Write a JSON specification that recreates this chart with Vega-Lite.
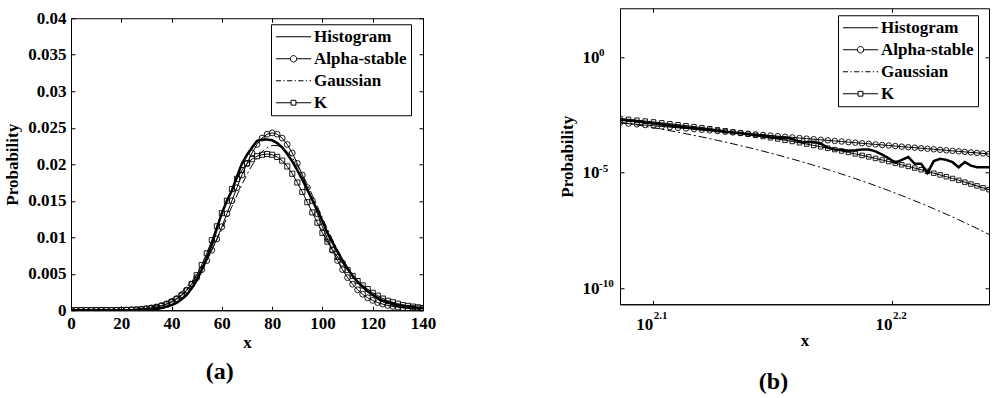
{
"$schema": "https://vega.github.io/schema/vega-lite/v6.json",
"background": "white",
"padding": {"left": 3, "top": 7, "right": 5, "bottom": 5},
"datasets": {
"leg": [{"series":"Histogram"},{"series":"Alpha-stable"},{"series":"Gaussian"},{"series":"K"}],
"bx": [{"v":125.8925,"e":"2.1"},{"v":158.4893,"e":"2.2"}],
"by": [{"v":1,"e":"0"},{"v":1e-5,"e":"-5"},{"v":1e-10,"e":"-10"}],
"a": [
{"x":0,"hist":0,"alpha":0,"gauss":0,"k":0},
{"x":2,"hist":0,"alpha":0,"gauss":0,"k":0},
{"x":4,"hist":0,"alpha":0,"gauss":0,"k":0},
{"x":6,"hist":0,"alpha":0,"gauss":0,"k":0},
{"x":8,"hist":0,"alpha":0,"gauss":0,"k":0},
{"x":10,"hist":0,"alpha":0,"gauss":0,"k":0},
{"x":12,"hist":0,"alpha":0,"gauss":0.00001,"k":0},
{"x":14,"hist":0,"alpha":0,"gauss":0.00002,"k":0},
{"x":16,"hist":0,"alpha":0,"gauss":0.00003,"k":0.00001},
{"x":18,"hist":0,"alpha":0,"gauss":0.00004,"k":0.00001},
{"x":20,"hist":0,"alpha":0.00003,"gauss":0.00006,"k":0.00002},
{"x":22,"hist":0,"alpha":0.00004,"gauss":0.00008,"k":0.00003},
{"x":24,"hist":0,"alpha":0.00007,"gauss":0.00012,"k":0.00005},
{"x":26,"hist":0.00001,"alpha":0.0001,"gauss":0.00018,"k":0.00007},
{"x":28,"hist":0.00002,"alpha":0.00015,"gauss":0.00025,"k":0.0001},
{"x":30,"hist":0.00004,"alpha":0.00022,"gauss":0.00035,"k":0.0002},
{"x":32,"hist":0.0001,"alpha":0.00032,"gauss":0.00048,"k":0.0003},
{"x":34,"hist":0.0002,"alpha":0.00045,"gauss":0.00065,"k":0.0004},
{"x":36,"hist":0.0003,"alpha":0.00064,"gauss":0.00088,"k":0.0006},
{"x":38,"hist":0.0005,"alpha":0.00088,"gauss":0.00116,"k":0.0008},
{"x":40,"hist":0.0007,"alpha":0.0012,"gauss":0.00152,"k":0.0011},
{"x":42,"hist":0.001,"alpha":0.0016,"gauss":0.00197,"k":0.0015},
{"x":44,"hist":0.0015,"alpha":0.00212,"gauss":0.00251,"k":0.002},
{"x":46,"hist":0.0021,"alpha":0.00276,"gauss":0.00316,"k":0.0027},
{"x":48,"hist":0.003,"alpha":0.00354,"gauss":0.00394,"k":0.0036},
{"x":50,"hist":0.0041,"alpha":0.00447,"gauss":0.00483,"k":0.0048},
{"x":52,"hist":0.0055,"alpha":0.00556,"gauss":0.00586,"k":0.0062},
{"x":54,"hist":0.0071,"alpha":0.00681,"gauss":0.00701,"k":0.0078},
{"x":56,"hist":0.009,"alpha":0.00822,"gauss":0.00829,"k":0.0096},
{"x":58,"hist":0.0112,"alpha":0.00977,"gauss":0.00967,"k":0.0115},
{"x":60,"hist":0.0133,"alpha":0.01145,"gauss":0.01113,"k":0.0133},
{"x":62,"hist":0.015,"alpha":0.01321,"gauss":0.01266,"k":0.015},
{"x":64,"hist":0.0164,"alpha":0.01501,"gauss":0.01421,"k":0.0166},
{"x":66,"hist":0.0183,"alpha":0.0168,"gauss":0.01575,"k":0.018},
{"x":68,"hist":0.0201,"alpha":0.01853,"gauss":0.01723,"k":0.0192},
{"x":70,"hist":0.0213,"alpha":0.02013,"gauss":0.01861,"k":0.0201},
{"x":72,"hist":0.0223,"alpha":0.02154,"gauss":0.01985,"k":0.0207},
{"x":74,"hist":0.0232,"alpha":0.02271,"gauss":0.02089,"k":0.0211},
{"x":76,"hist":0.0234,"alpha":0.02358,"gauss":0.02171,"k":0.0213},
{"x":78,"hist":0.0234,"alpha":0.02412,"gauss":0.02228,"k":0.0214},
{"x":80,"hist":0.0233,"alpha":0.0243,"gauss":0.02256,"k":0.0213},
{"x":82,"hist":0.0229,"alpha":0.02412,"gauss":0.02256,"k":0.021},
{"x":84,"hist":0.0223,"alpha":0.02358,"gauss":0.02228,"k":0.0205},
{"x":86,"hist":0.0214,"alpha":0.02271,"gauss":0.02171,"k":0.0197},
{"x":88,"hist":0.0204,"alpha":0.02154,"gauss":0.02089,"k":0.0187},
{"x":90,"hist":0.0192,"alpha":0.02013,"gauss":0.01985,"k":0.0175},
{"x":92,"hist":0.0179,"alpha":0.01853,"gauss":0.01861,"k":0.0162},
{"x":94,"hist":0.0165,"alpha":0.0168,"gauss":0.01723,"k":0.0148},
{"x":96,"hist":0.0151,"alpha":0.01501,"gauss":0.01575,"k":0.0134},
{"x":98,"hist":0.0137,"alpha":0.01321,"gauss":0.01421,"k":0.012},
{"x":100,"hist":0.0122,"alpha":0.01145,"gauss":0.01266,"k":0.0106},
{"x":102,"hist":0.0106,"alpha":0.00977,"gauss":0.01113,"k":0.0094},
{"x":104,"hist":0.0093,"alpha":0.00822,"gauss":0.00967,"k":0.0083},
{"x":106,"hist":0.008,"alpha":0.00681,"gauss":0.00829,"k":0.0073},
{"x":108,"hist":0.0068,"alpha":0.00556,"gauss":0.00701,"k":0.0064},
{"x":110,"hist":0.0057,"alpha":0.00447,"gauss":0.00586,"k":0.0055},
{"x":112,"hist":0.0047,"alpha":0.00357,"gauss":0.00483,"k":0.0047},
{"x":114,"hist":0.0039,"alpha":0.0028,"gauss":0.00394,"k":0.004},
{"x":116,"hist":0.0032,"alpha":0.0022,"gauss":0.00316,"k":0.0034},
{"x":118,"hist":0.0026,"alpha":0.0017,"gauss":0.00251,"k":0.0029},
{"x":120,"hist":0.0021,"alpha":0.00135,"gauss":0.00197,"k":0.0024},
{"x":122,"hist":0.0017,"alpha":0.00105,"gauss":0.00152,"k":0.002},
{"x":124,"hist":0.0013,"alpha":0.00084,"gauss":0.00116,"k":0.0016},
{"x":126,"hist":0.0011,"alpha":0.00065,"gauss":0.00088,"k":0.0013},
{"x":128,"hist":0.0009,"alpha":0.00052,"gauss":0.00065,"k":0.0011},
{"x":130,"hist":0.0007,"alpha":0.00042,"gauss":0.00048,"k":0.0009},
{"x":132,"hist":0.0006,"alpha":0.00035,"gauss":0.00035,"k":0.0007},
{"x":134,"hist":0.0005,"alpha":0.0003,"gauss":0.00025,"k":0.0006},
{"x":136,"hist":0.0004,"alpha":0.00027,"gauss":0.00018,"k":0.0005},
{"x":138,"hist":0.0003,"alpha":0.00024,"gauss":0.00012,"k":0.0004},
{"x":140,"hist":0.0003,"alpha":0.00023,"gauss":0.00008,"k":0.0003}
],
"b": [
{"x":122,"hist":2.00e-3,"alpha":1.413e-3,"gauss":1.52e-3,"k":2.19e-3},
{"x":123,"hist":1.82e-3,"alpha":1.315e-3,"gauss":1.33e-3,"k":2.02e-3},
{"x":124,"hist":1.66e-3,"alpha":1.227e-3,"gauss":1.16e-3,"k":1.85e-3},
{"x":125,"hist":1.48e-3,"alpha":1.143e-3,"gauss":1.01e-3,"k":1.70e-3},
{"x":126,"hist":1.35e-3,"alpha":1.067e-3,"gauss":8.75e-4,"k":1.56e-3},
{"x":127,"hist":1.20e-3,"alpha":9.95e-4,"gauss":7.57e-4,"k":1.43e-3},
{"x":128,"hist":1.10e-3,"alpha":9.31e-4,"gauss":6.52e-4,"k":1.30e-3},
{"x":129,"hist":1.00e-3,"alpha":8.69e-4,"gauss":5.60e-4,"k":1.18e-3},
{"x":130,"hist":8.91e-4,"alpha":8.13e-4,"gauss":4.79e-4,"k":1.07e-3},
{"x":131,"hist":8.32e-4,"alpha":7.60e-4,"gauss":4.08e-4,"k":9.73e-4},
{"x":132,"hist":7.59e-4,"alpha":7.11e-4,"gauss":3.48e-4,"k":8.79e-4},
{"x":133,"hist":6.92e-4,"alpha":6.67e-4,"gauss":2.94e-4,"k":7.94e-4},
{"x":134,"hist":6.46e-4,"alpha":6.25e-4,"gauss":2.49e-4,"k":7.14e-4},
{"x":135,"hist":5.89e-4,"alpha":5.85e-4,"gauss":2.09e-4,"k":6.41e-4},
{"x":136,"hist":5.50e-4,"alpha":5.50e-4,"gauss":1.76e-4,"k":5.75e-4},
{"x":137,"hist":5.01e-4,"alpha":5.15e-4,"gauss":1.47e-4,"k":5.14e-4},
{"x":138,"hist":4.57e-4,"alpha":4.83e-4,"gauss":1.23e-4,"k":4.59e-4},
{"x":139,"hist":4.17e-4,"alpha":4.54e-4,"gauss":1.02e-4,"k":4.09e-4},
{"x":140,"hist":3.80e-4,"alpha":4.27e-4,"gauss":8.45e-5,"k":3.63e-4},
{"x":141,"hist":3.39e-4,"alpha":4.01e-4,"gauss":6.98e-5,"k":3.22e-4},
{"x":142,"hist":3.16e-4,"alpha":3.77e-4,"gauss":5.75e-5,"k":2.85e-4},
{"x":143,"hist":3.31e-4,"alpha":3.55e-4,"gauss":4.72e-5,"k":2.52e-4},
{"x":144,"hist":2.82e-4,"alpha":3.34e-4,"gauss":3.86e-5,"k":2.22e-4},
{"x":145,"hist":2.19e-4,"alpha":3.14e-4,"gauss":3.16e-5,"k":1.95e-4},
{"x":146,"hist":2.04e-4,"alpha":2.96e-4,"gauss":2.56e-5,"k":1.71e-4},
{"x":147,"hist":2.14e-4,"alpha":2.79e-4,"gauss":2.07e-5,"k":1.50e-4},
{"x":148,"hist":1.78e-4,"alpha":2.63e-4,"gauss":1.68e-5,"k":1.31e-4},
{"x":149,"hist":1.20e-4,"alpha":2.48e-4,"gauss":1.35e-5,"k":1.14e-4},
{"x":150,"hist":1.00e-4,"alpha":2.34e-4,"gauss":1.08e-5,"k":9.91e-5},
{"x":151,"hist":9.55e-5,"alpha":2.21e-4,"gauss":8.67e-6,"k":8.61e-5},
{"x":152,"hist":8.91e-5,"alpha":2.08e-4,"gauss":6.92e-6,"k":7.45e-5},
{"x":153,"hist":9.33e-5,"alpha":1.97e-4,"gauss":5.50e-6,"k":6.44e-5},
{"x":154,"hist":1.00e-4,"alpha":1.86e-4,"gauss":4.36e-6,"k":5.55e-5},
{"x":155,"hist":1.00e-4,"alpha":1.76e-4,"gauss":3.44e-6,"k":4.78e-5},
{"x":156,"hist":8.32e-5,"alpha":1.66e-4,"gauss":2.71e-6,"k":4.10e-5},
{"x":157,"hist":6.03e-5,"alpha":1.57e-4,"gauss":2.13e-6,"k":3.52e-5},
{"x":158,"hist":4.17e-5,"alpha":1.49e-4,"gauss":1.66e-6,"k":3.00e-5},
{"x":159,"hist":2.63e-5,"alpha":1.41e-4,"gauss":1.30e-6,"k":2.56e-5},
{"x":160,"hist":3.55e-5,"alpha":1.33e-4,"gauss":1.01e-6,"k":2.18e-5},
{"x":161,"hist":4.68e-5,"alpha":1.26e-4,"gauss":7.82e-7,"k":1.85e-5},
{"x":162,"hist":2.40e-5,"alpha":1.20e-4,"gauss":6.03e-7,"k":1.57e-5},
{"x":163,"hist":2.40e-5,"alpha":1.135e-4,"gauss":4.65e-7,"k":1.33e-5},
{"x":164,"hist":9.77e-6,"alpha":1.076e-4,"gauss":3.56e-7,"k":1.12e-5},
{"x":165,"hist":3.16e-5,"alpha":1.021e-4,"gauss":2.72e-7,"k":9.42e-6},
{"x":166,"hist":3.98e-5,"alpha":9.68e-5,"gauss":2.07e-7,"k":7.93e-6},
{"x":167,"hist":3.55e-5,"alpha":9.20e-5,"gauss":1.58e-7,"k":6.64e-6},
{"x":168,"hist":2.82e-5,"alpha":8.73e-5,"gauss":1.20e-7,"k":5.56e-6},
{"x":169,"hist":1.70e-5,"alpha":8.30e-5,"gauss":9.04e-8,"k":4.63e-6},
{"x":170,"hist":2.88e-5,"alpha":7.87e-5,"gauss":6.79e-8,"k":3.86e-6},
{"x":171,"hist":2.00e-5,"alpha":7.48e-5,"gauss":5.11e-8,"k":3.21e-6},
{"x":172,"hist":1.70e-5,"alpha":7.11e-5,"gauss":3.81e-8,"k":2.66e-6},
{"x":173,"hist":1.70e-5,"alpha":6.76e-5,"gauss":2.84e-8,"k":2.20e-6},
{"x":174,"hist":1.70e-5,"alpha":6.43e-5,"gauss":2.11e-8,"k":1.82e-6}
]
},
"spacing": 120,
"center": true,
"resolve": {"scale": {"shape": "independent"}, "legend": {"shape": "independent"}},
"hconcat": [
{
"width": 352, "height": 292,
"title": {"text": "(a)", "orient": "bottom", "anchor": "middle", "frame": "bounds", "font": "Liberation Serif", "fontSize": 24, "fontWeight": "bold", "color": "black", "offset": 10},
"layer": [
{"data": {"name": "a"}, "mark": {"type": "line", "color": "black", "strokeWidth": 1, "strokeDash": [8,3,2,3], "clip": true},
 "encoding": {
  "x": {"field": "x", "type": "quantitative", "title": "x", "scale": {"domain": [0,140], "nice": false},
        "axis": {"values": [0,20,40,60,80,100,120,140], "format": "d", "ticks": false, "grid": true, "gridDash": [4,284,4,20], "gridColor": "black", "gridOpacity": 1, "labelPadding": 5, "titlePadding": 3, "labelOverlap": false}},
  "y": {"field": "gauss", "type": "quantitative", "title": "Probability", "scale": {"domain": [0,0.04], "nice": false},
        "axis": {"values": [0,0.005,0.01,0.015,0.02,0.025,0.03,0.035,0.04], "tickCount": 9, "labelExpr": "format(datum.value, '~g')", "ticks": false, "grid": true, "gridDash": [4,344,4,20], "gridColor": "black", "gridOpacity": 1, "labelPadding": 5, "titlePadding": 6, "labelOverlap": false}}
 }},
{"data": {"name": "a"}, "mark": {"type": "line", "color": "black", "strokeWidth": 1, "clip": true},
 "encoding": {"x": {"field": "x", "type": "quantitative", "title": "x"}, "y": {"field": "k", "type": "quantitative", "title": "Probability"}}},
{"data": {"name": "a"}, "mark": {"type": "point", "shape": "square", "filled": false, "color": "black", "size": 26, "strokeWidth": 0.9, "opacity": 1, "clip": true},
 "encoding": {"x": {"field": "x", "type": "quantitative", "title": "x"}, "y": {"field": "k", "type": "quantitative", "title": "Probability"}}},
{"data": {"name": "a"}, "mark": {"type": "line", "color": "black", "strokeWidth": 1, "clip": true},
 "encoding": {"x": {"field": "x", "type": "quantitative", "title": "x"}, "y": {"field": "alpha", "type": "quantitative", "title": "Probability"}}},
{"data": {"name": "a"}, "mark": {"type": "point", "shape": "circle", "filled": false, "color": "black", "size": 34, "strokeWidth": 0.9, "opacity": 1, "clip": true},
 "encoding": {"x": {"field": "x", "type": "quantitative", "title": "x"}, "y": {"field": "alpha", "type": "quantitative", "title": "Probability"}}},
{"data": {"name": "a"}, "mark": {"type": "line", "color": "black", "strokeWidth": 2.5, "clip": true},
 "encoding": {"x": {"field": "x", "type": "quantitative", "title": "x"}, "y": {"field": "hist", "type": "quantitative", "title": "Probability"}}},
{"data": {"name": "leg"}, "mark": {"type": "point", "filled": false, "color": "black", "opacity": 0},
 "encoding": {"shape": {"field": "series", "type": "nominal",
   "scale": {"domain": ["Histogram","Alpha-stable","Gaussian","K"],
     "range": ["M-4.4,0H4.4",
               "M-4.4,0H-0.8M0.8,0H4.4M0.8,0A0.8,0.8,0,1,1,-0.8,0A0.8,0.8,0,1,1,0.8,0",
               "M-4.4,0H-3.1M-2.5,0H-2.2M-1.6,0H-0.3M0.3,0H0.6M1.2,0H2.5M3.1,0H3.4M4,0H4.4",
               "M-4.4,0H-0.6M0.6,0H4.4M-0.6,-0.6H0.6V0.6H-0.6Z"]},
   "legend": {"title": null, "orient": "none", "legendX": 200, "legendY": 6, "strokeColor": "black", "fillColor": "white", "padding": 4, "rowPadding": 4, "labelFont": "Liberation Serif", "labelFontSize": 17, "labelFontWeight": "bold", "labelColor": "black", "labelLimit": 300, "symbolSize": 64, "symbolStrokeWidth": 1, "symbolStrokeColor": "black", "symbolFillColor": "transparent", "symbolOffset": 10, "labelOffset": 12, "symbolOpacity": 1, "cornerRadius": 0,
     "encode": {"symbols": {"update": {"strokeWidth": {"signal": "datum.value === 'Histogram' ? 2.5 : 1"}}}}}}}}
]
},
{
"width": 369, "height": 296,
"title": {"text": "(b)", "orient": "bottom", "anchor": "middle", "frame": "bounds", "font": "Liberation Serif", "fontSize": 24, "fontWeight": "bold", "color": "black", "offset": 22},
"layer": [
{"data": {"name": "b"}, "mark": {"type": "line", "color": "black", "strokeWidth": 1, "strokeDash": [8,3,2,3], "clip": true},
 "encoding": {
  "x": {"field": "x", "type": "quantitative", "title": "x", "scale": {"type": "log", "domain": [122,174], "nice": false},
        "axis": {"values": [125.8925,158.4893], "labelExpr": "'10'", "labelAlign": "right", "ticks": false, "grid": true, "gridDash": [4,288,4,20], "gridColor": "black", "gridOpacity": 1, "labelPadding": 12, "titlePadding": 0, "labelOverlap": false}},
  "y": {"field": "gauss", "type": "quantitative", "title": "Probability", "scale": {"type": "log", "domain": [2e-11,130], "nice": false},
        "axis": {"values": [1e-10,1e-5,1], "labelExpr": "'10'", "ticks": false, "grid": true, "gridDash": [4,361,4,20], "gridColor": "black", "gridOpacity": 1, "labelPadding": 21, "titlePadding": 6, "labelOverlap": false}}
 }},
{"data": {"name": "b"}, "mark": {"type": "line", "color": "black", "strokeWidth": 1, "clip": true},
 "encoding": {"x": {"field": "x", "type": "quantitative", "title": "x"}, "y": {"field": "k", "type": "quantitative", "title": "Probability"}}},
{"data": {"name": "b"}, "mark": {"type": "point", "shape": "square", "filled": false, "color": "black", "size": 20, "strokeWidth": 0.9, "opacity": 1, "clip": true},
 "encoding": {"x": {"field": "x", "type": "quantitative", "title": "x"}, "y": {"field": "k", "type": "quantitative", "title": "Probability"}}},
{"data": {"name": "b"}, "mark": {"type": "line", "color": "black", "strokeWidth": 1, "clip": true},
 "encoding": {"x": {"field": "x", "type": "quantitative", "title": "x"}, "y": {"field": "alpha", "type": "quantitative", "title": "Probability"}}},
{"data": {"name": "b"}, "mark": {"type": "point", "shape": "circle", "filled": false, "color": "black", "size": 30, "strokeWidth": 0.9, "opacity": 1, "clip": true},
 "encoding": {"x": {"field": "x", "type": "quantitative", "title": "x"}, "y": {"field": "alpha", "type": "quantitative", "title": "Probability"}}},
{"data": {"name": "b"}, "mark": {"type": "line", "color": "black", "strokeWidth": 2.5, "clip": true},
 "encoding": {"x": {"field": "x", "type": "quantitative", "title": "x"}, "y": {"field": "hist", "type": "quantitative", "title": "Probability"}}},
{"data": {"name": "bx"}, "mark": {"type": "text", "align": "left", "baseline": "alphabetic", "dx": 1, "dy": 15, "font": "Liberation Serif", "fontSize": 11, "fontWeight": "bold", "color": "black", "clip": false},
 "encoding": {"x": {"field": "v", "type": "quantitative", "title": "x"}, "y": {"datum": 2e-11, "type": "quantitative"}, "text": {"field": "e"}}},
{"data": {"name": "by"}, "mark": {"type": "text", "align": "left", "baseline": "alphabetic", "dx": -21, "dy": -1, "font": "Liberation Serif", "fontSize": 11, "fontWeight": "bold", "color": "black", "clip": false},
 "encoding": {"y": {"field": "v", "type": "quantitative", "title": "Probability"}, "x": {"datum": 122, "type": "quantitative"}, "text": {"field": "e"}}},
{"data": {"name": "leg"}, "mark": {"type": "point", "filled": false, "color": "black", "opacity": 0},
 "encoding": {"shape": {"field": "series", "type": "nominal",
   "scale": {"domain": ["Histogram","Alpha-stable","Gaussian","K"],
     "range": ["M-4.4,0H4.4",
               "M-4.4,0H-0.8M0.8,0H4.4M0.8,0A0.8,0.8,0,1,1,-0.8,0A0.8,0.8,0,1,1,0.8,0",
               "M-4.4,0H-3.1M-2.5,0H-2.2M-1.6,0H-0.3M0.3,0H0.6M1.2,0H2.5M3.1,0H3.4M4,0H4.4",
               "M-4.4,0H-0.6M0.6,0H4.4M-0.6,-0.6H0.6V0.6H-0.6Z"]},
   "legend": {"title": null, "orient": "none", "legendX": 218, "legendY": 7, "strokeColor": "black", "fillColor": "white", "padding": 4, "rowPadding": 4, "labelFont": "Liberation Serif", "labelFontSize": 17, "labelFontWeight": "bold", "labelColor": "black", "labelLimit": 300, "symbolSize": 64, "symbolStrokeWidth": 1, "symbolStrokeColor": "black", "symbolFillColor": "transparent", "symbolOffset": 10, "labelOffset": 12, "symbolOpacity": 1, "cornerRadius": 0,
     "encode": {"symbols": {"update": {"strokeWidth": {"signal": "datum.value === 'Histogram' ? 2.5 : 1"}}}}}}}}
]
}
],
"config": {
 "font": "Liberation Serif",
 "view": {"stroke": "black", "strokeWidth": 1},
 "axis": {"labelFont": "Liberation Serif", "labelFontSize": 17, "labelFontWeight": "bold", "labelColor": "black",
          "titleFont": "Liberation Serif", "titleFontSize": 17, "titleFontWeight": "bold", "titleColor": "black",
          "domainColor": "black", "domainWidth": 1, "labelFlush": false, "labelOverlap": false, "gridWidth": 1}
}
}
